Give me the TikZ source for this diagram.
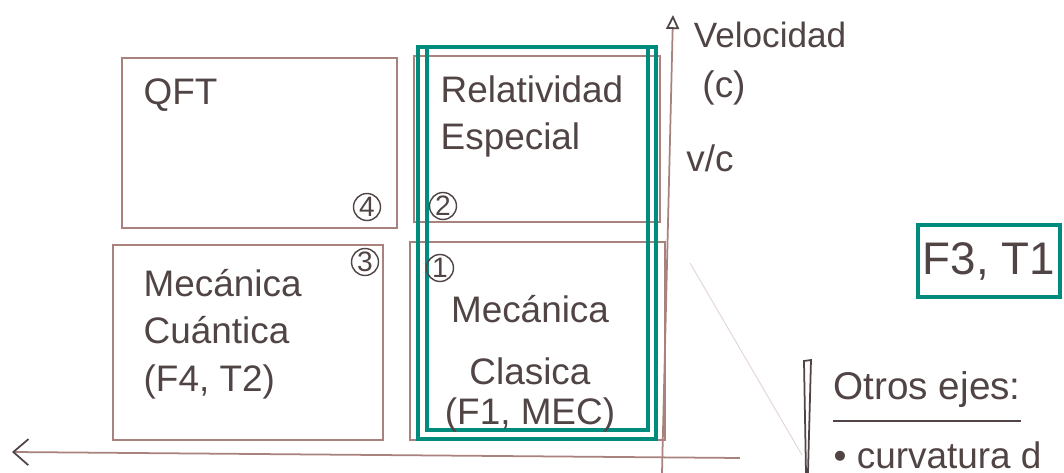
\documentclass[tikz,border=0pt]{standalone}
\usepackage{fontspec}
\setmainfont{Liberation Sans}
\usetikzlibrary{arrows.meta}
\definecolor{lapiz}{RGB}{170,130,125}
\definecolor{tinta}{RGB}{80,68,68}
\definecolor{verde}{RGB}{0,140,125}

\begin{document}
\begin{tikzpicture}[
  cuadro/.style={draw=lapiz, line width=0.6pt},
  marco/.style={draw=verde, line width=1.1pt},
  num/.style={draw=tinta, circle, inner sep=0pt, minimum size=0.27cm, text=tinta, font=\fontsize{8}{8}\selectfont},
  letra/.style={text=tinta, inner sep=0pt, font=\fontsize{10.5}{13.5}\selectfont}
]
\useasboundingbox (0,0) rectangle (10.64,4.73);

% Ejes
\coordinate (finX) at (7.40,0.15);
\coordinate (ejeX) at (0.12,0.21);
\coordinate (baseY) at (6.62,0);
\coordinate (ejeY) at (6.73,4.58);
\draw[lapiz, line width=0.5pt, -{Straight Barb[length=1.5mm, width=2.6mm, color=tinta]}] (finX) -- (ejeX);
\draw[lapiz, line width=0.5pt, -{Triangle[open, length=1.4mm, width=1.3mm, color=tinta]}] (baseY) -- (ejeY);

% Cuadrantes
\draw[cuadro] (1.22,2.45) rectangle (3.97,4.15); % QFT
\draw[cuadro] (1.13,0.33) rectangle (3.83,2.28); % Cuantica
\draw[cuadro] (4.14,2.51) rectangle (6.60,4.17); % Relatividad
\draw[cuadro] (4.10,0.33) rectangle (6.65,2.31); % Clasica

% Marco verde (doble)
\draw[marco] (4.18,0.34) rectangle (6.56,4.26);
\draw[marco] (4.27,0.43) rectangle (6.48,4.26);

% Textos de los cuadrantes
\node[letra, anchor=west] (qft) at (1.43,3.78) {QFT};
\node[letra, anchor=west, align=left] (cuantica) at (1.43,1.39) {Mecánica\\Cuántica\\(F4, T2)};
\node[letra, anchor=west, align=left] (relatividad) at (4.40,3.565) {Relatividad\\Especial};
\node[letra, align=center] (clasica) at (5.30,1.09) {Mecánica\\[4pt]Clasica\\[-2pt](F1, MEC)};

% Numeros
\node[num] (n4) at (3.67,2.66) {4};
\node[num] (n3) at (3.65,2.11) {3};
\node[num] (n2) at (4.43,2.67) {2};
\node[num] (n1) at (4.40,2.05) {1};

% Eje vertical
\node[letra, font=\fontsize{10}{12}\selectfont] (velocidad) at (7.70,4.38) {Velocidad};
\node[letra] (c) at (7.24,3.85) {(c)};
\node[letra] (vc) at (7.10,3.15) {v/c};

% Recuadro F3, T1
\node[marco, text=tinta, minimum width=1.42cm, minimum height=0.72cm, inner sep=0pt,
  font=\fontsize{13}{15}\selectfont] (f3t1) at (9.89,2.12) {F3, T1};

% Otros ejes
\draw[lapiz!30, line width=0.3pt] (6.90,2.10) -- (8.02,0.18); % trazo tenue
\draw[tinta, line width=0.5pt] (8.06,0) -- (8.04,1.12) -- (8.11,1.13) -- (8.08,0);
\node[letra, anchor=west, font=\fontsize{11}{13}\selectfont] (otros) at (8.33,0.83) {Otros ejes:};
\draw[tinta, line width=0.6pt] ([yshift=-0.12cm]otros.south west) -- ([yshift=-0.12cm]otros.south east);
\node[letra, anchor=west] (curvatura) at (8.33,0.18) {\textbullet\ curvatura d};
\end{tikzpicture}
\end{document}
